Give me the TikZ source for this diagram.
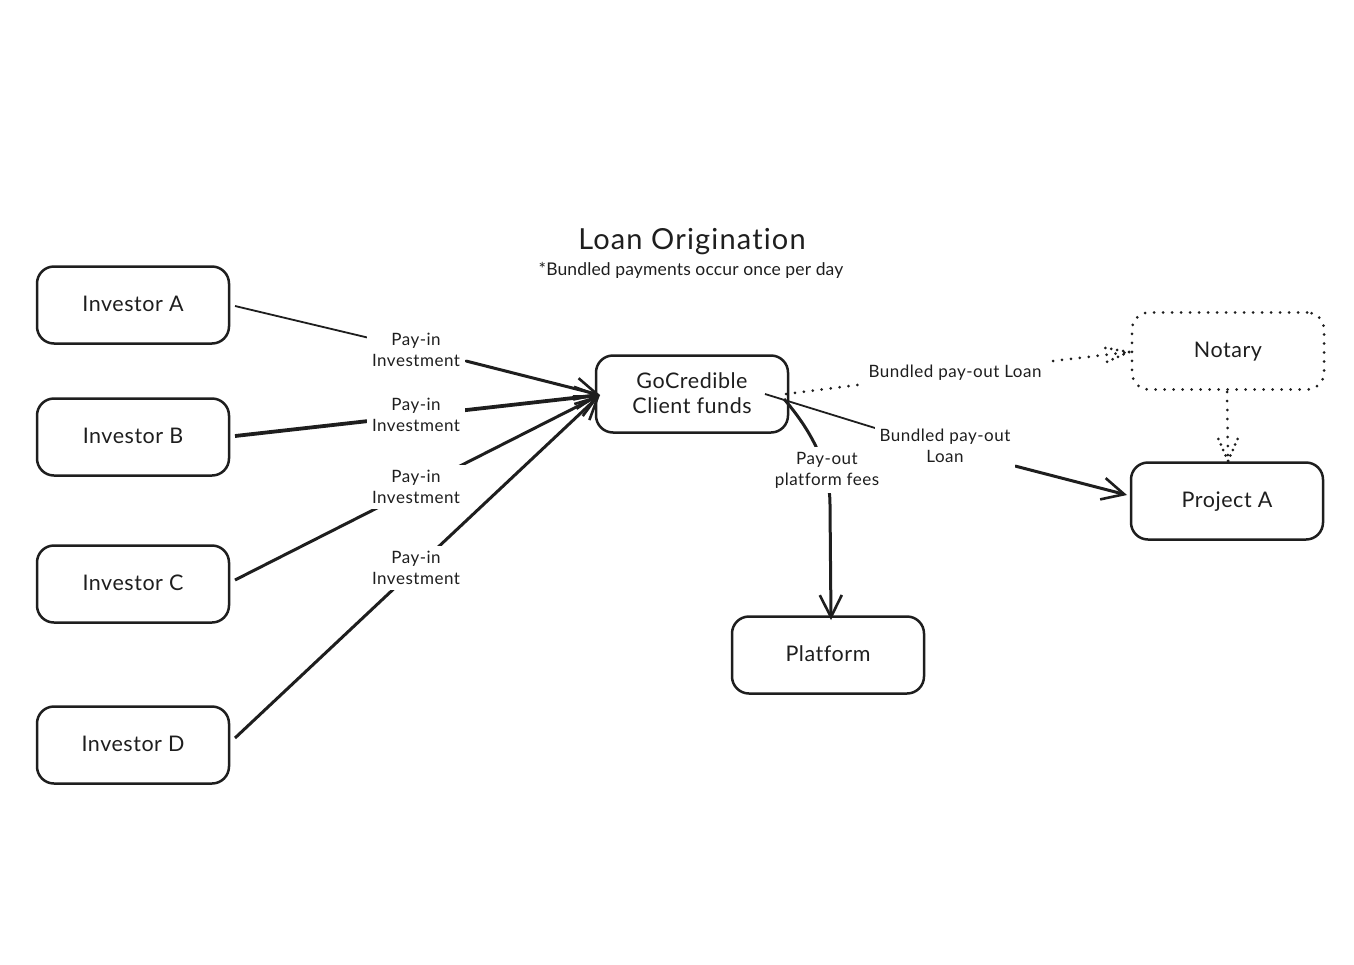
\documentclass[tikz,border=0pt]{standalone}
\usepackage{fontspec}
\setmainfont{Lato}[Ligatures=NoCommon]
\usetikzlibrary{arrows.meta}
\definecolor{ink}{HTML}{1E1E1E}
\newcommand{\boxline}[1]{\rule{0pt}{15pt}\raisebox{1pt}{\smash{#1}}}
\tikzset{
  box/.style={draw=ink,line width=2.5pt,rounded corners=17pt,minimum width=192pt,minimum height=77pt,inner sep=0pt,align=center,font=\fontsize{21.5}{25}\selectfont\addfontfeature{LetterSpace=2.5},text=ink},
  dotbox/.style={box,line cap=round,dash pattern=on 0pt off 9pt,line width=3pt},
  lab/.style={fill=white,inner xsep=5pt,inner ysep=5pt,align=center,font=\fontsize{17}{21}\selectfont\addfontfeature{LetterSpace=3},text=ink},
  thinconn/.style={draw=ink,line width=1.8pt},
  arr/.style={draw=ink,line width=3pt,-{Straight Barb[length=22pt,width=22pt,line width=2.6pt]}},
  heavyarr/.style={arr,line width=3.8pt},
  dots/.style={draw=ink,line width=3pt,line cap=round,dash pattern=on 0pt off 9pt},
  barbdots/.style={draw=ink,line width=3pt,line cap=round,dash pattern=on 0pt off 6pt},
}
\begin{document}
\begin{tikzpicture}[x=1pt,y=-1pt]
\useasboundingbox (0,0) rectangle (1354,964);
\node[box] (ia) at (133,305) {\boxline{Investor A}};
\node[box] (ib) at (133,437) {\boxline{Investor B}};
\node[box] (ic) at (133,584) {\boxline{Investor C}};
\node[box] (id) at (133,745) {\boxline{Investor D}};
\node[box] (gc) at (692,394) {\raisebox{2pt}{GoCredible}\\\raisebox{2pt}{Client funds}};
\node[dotbox] (no) at (1228,351) {\boxline{Notary}};
\node[box] (pj) at (1227,501) {\boxline{Project A}};
\node[box] (pl) at (828,655) {\boxline{Platform}};
\node[text=ink,font=\fontsize{29}{32}\selectfont\addfontfeature{LetterSpace=4}] (title) at (692,242) {Loan Origination};
\node[text=ink,font=\fontsize{17.5}{21}\selectfont\addfontfeature{LetterSpace=0.8}] (sub) at (691,270) {*Bundled payments occur once per day};
\coordinate (hub) at (600,395);
\coordinate (a0) at (235,306);
\coordinate (a1) at (466,361);
\coordinate (b0) at (235,436);
\coordinate (c0) at (235,580);
\coordinate (d0) at (235,738);
\draw[thinconn] (a0) -- (a1);
\draw[arr] (a1) -- (hub);
\draw[heavyarr] (b0) -- (hub);
\draw[arr] (c0) -- (hub);
\draw[arr] (d0) -- (hub);
\coordinate (pjs) at (765,394);
\coordinate (pjm) at (875,428);
\coordinate (pjr) at (1015,466);
\coordinate (pje) at (1127,495);
\draw[thinconn] (pjs) -- (pjm);
\draw[arr] (pjr) -- (pje);
\coordinate (cs) at (784,399);
\coordinate (ce) at (831,620);
\draw[arr] (cs) .. controls (815,435) and (830,470) .. (830,505) -- (ce);
\coordinate (ns) at (786,394);
\coordinate (nm) at (865,384);
\coordinate (nr) at (1053,361);
\coordinate (ne) at (1129,352);
\coordinate (nb1) at (1100,347);
\coordinate (nb2) at (1102,364);
\draw[dots] (ns) -- (nm);
\draw[dots] (nr) -- (ne);
\draw[barbdots] (ne) -- (nb1);
\draw[barbdots] (ne) -- (nb2);
\coordinate (ps) at (1227,392);
\coordinate (pe) at (1228,461);
\coordinate (pb1) at (1218,438);
\coordinate (pb2) at (1238,438);
\draw[dots] (ps) -- (pe);
\draw[barbdots] (pe) -- (pb1);
\draw[barbdots] (pe) -- (pb2);
\node[lab] (l1) at (416,350) {Pay-in\\Investment};
\node[lab] (l2) at (416,415) {Pay-in\\Investment};
\node[lab] (l3) at (416,487) {Pay-in\\Investment};
\node[lab] (l4) at (416,568) {Pay-in\\Investment};
\node[lab] (l5) at (955,373) {Bundled pay-out Loan};
\node[lab] (l6) at (945,446) {Bundled pay-out\\Loan};
\node[lab] (l7) at (827,470) {Pay-out\\platform fees};
\end{tikzpicture}
\end{document}
